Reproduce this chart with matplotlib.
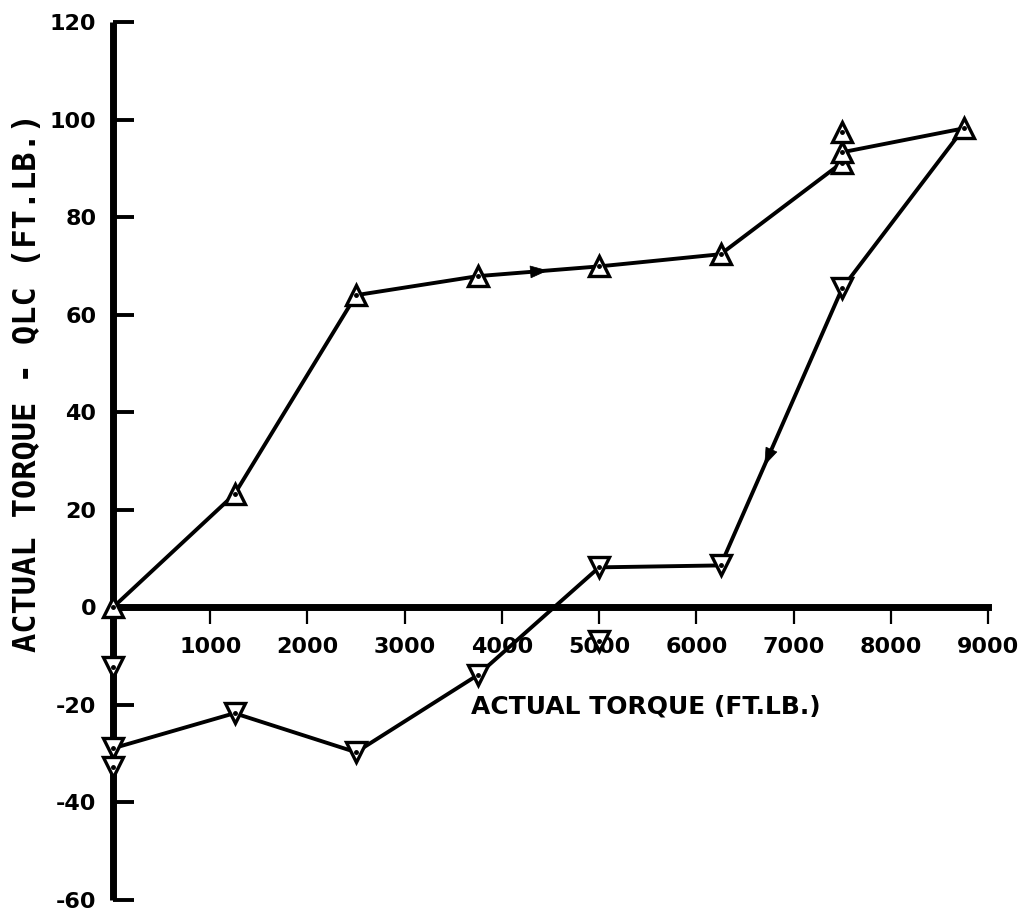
import numpy as np
import matplotlib
matplotlib.use("Agg")
import matplotlib.pyplot as plt

# loading branch (triangles up)
up_x = [0, 1250, 2500, 3750, 5000, 6250, 7500, 7500, 8750]
up_y = [0, 23.2, 64.0, 67.9, 69.9, 72.4, 91.2, 93.3, 98.2]
up_extra_x = [7500]
up_extra_y = [97.4]

# unloading branch (triangles down), starts at the last loading point
down_x = [8750, 7500, 6250, 5000, 3750, 2500, 1250, 0]
down_y = [98.2, 65.4, 8.6, 8.2, -13.9, -29.7, -21.7, -28.9]
down_extra_x = [0, 0, 5000]
down_extra_y = [-12.3, -32.8, -6.8]

x_ticks = [1000, 2000, 3000, 4000, 5000, 6000, 7000, 8000, 9000]
y_ticks = [-60, -40, -20, 0, 20, 40, 60, 80, 100, 120]

plt.rcParams['axes.unicode_minus'] = False

fig = plt.figure(figsize=(10.30, 9.14), dpi=100)
ax = fig.add_axes([0.1097, 0.0153, 0.8495, 0.9606])

lw = 2.8
mk = dict(markersize=14.5, markerfacecolor='white', markeredgecolor='k',
          markeredgewidth=2.4, clip_on=False, zorder=4)

ax.plot(up_x, up_y, color='k', lw=lw, clip_on=False, zorder=3)
ax.plot(down_x, down_y, color='k', lw=lw, clip_on=False, zorder=3)

ax.plot(up_x + up_extra_x, up_y + up_extra_y, ls='none', marker='^', **mk)
ax.plot(down_x[1:] + down_extra_x, down_y[1:] + down_extra_y, ls='none', marker='v', **mk)

# centre dots
all_x = up_x + up_extra_x + down_x[1:] + down_extra_x
all_y = up_y + up_extra_y + down_y[1:] + down_extra_y
ax.plot(all_x, all_y, ls='none', marker='o', markersize=2.5, color='k',
        clip_on=False, zorder=5)


def arrow_on(xs, ys, i, frac):
    # arrowhead placed along segment i -> i+1, pointing in the path direction
    x0, y0, x1, y1 = xs[i], ys[i], xs[i + 1], ys[i + 1]
    tip = (x0 + (x1 - x0) * frac, y0 + (y1 - y0) * frac)
    tail = (x0 + (x1 - x0) * (frac - 0.3), y0 + (y1 - y0) * (frac - 0.3))
    ax.annotate('', xy=tip, xytext=tail,
                arrowprops=dict(arrowstyle='-|>,head_length=0.7,head_width=0.25',
                                color='k', lw=0.5, mutation_scale=17,
                                shrinkA=0, shrinkB=0),
                zorder=4)


arrow_on(up_x, up_y, 3, 0.58)
arrow_on(down_x, down_y, 1, 0.64)

ax.set_xlim(0, 9000)
ax.set_ylim(-60, 120)

for s in ['top', 'right']:
    ax.spines[s].set_visible(False)
ax.spines['bottom'].set_position(('data', 0))
ax.spines['left'].set_linewidth(5)
ax.spines['bottom'].set_linewidth(5)
ax.spines['left'].set_capstyle('butt')

ax.set_xticks(x_ticks)
ax.set_yticks(y_ticks)
ax.tick_params(axis='y', direction='in', length=15, width=2.8, pad=12,
               labelsize=16)
ax.tick_params(axis='x', direction='out', length=12, width=1.6, pad=9,
               labelsize=16)
for lab in ax.get_xticklabels() + ax.get_yticklabels():
    lab.set_fontweight('bold')

ax.set_xlabel('ACTUAL TORQUE (FT.LB.)', fontsize=18, fontweight='bold',
              va='center')
ax.xaxis.set_label_coords(0.609, 0.22)
ax.set_ylabel('ACTUAL TORQUE - QLC (FT.LB.)', fontsize=23,
              family='DejaVu Sans Mono', fontweight='bold', va='center')
ax.yaxis.set_label_coords(-0.098, 0.59)

fig.savefig('out.png', dpi=100)
